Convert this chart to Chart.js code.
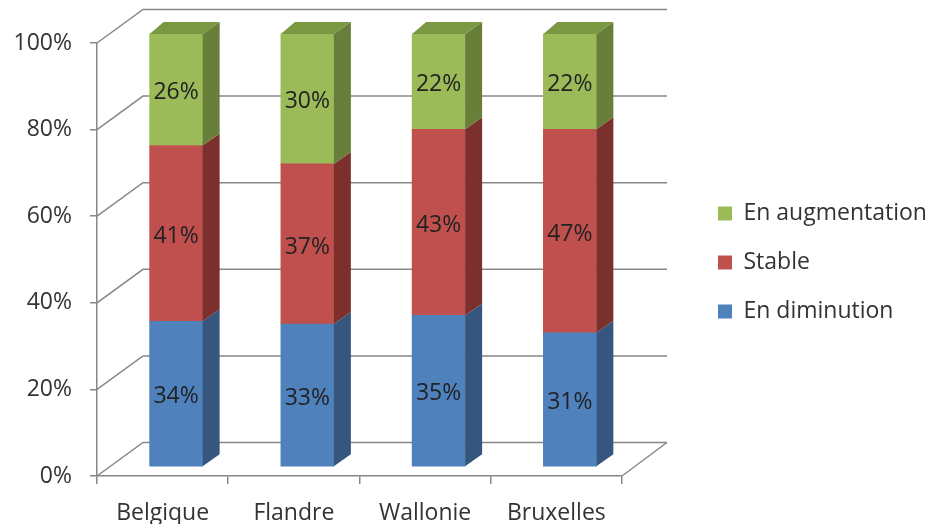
<!DOCTYPE html>
<html><head><meta charset="utf-8">
<script src="https://cdn.jsdelivr.net/npm/chart.js@4/dist/chart.umd.min.js"></script>
<style>html,body{margin:0;padding:0;background:#fff}#wrap{width:927px;height:524px}</style>
</head><body><div id="wrap"><canvas id="c" width="927" height="524"></canvas></div>
<script>
// ---- data ----
const categories = ['Belgique', 'Flandre', 'Wallonie', 'Bruxelles'];
const seriesNames = ['En diminution', 'Stable', 'En augmentation'];
const enDiminution = [34, 33, 35, 31];
const stable = [41, 37, 43, 47];
const enAugmentation = [26, 30, 22, 22];
const yTickLabels = ['0%', '20%', '40%', '60%', '80%', '100%'];

// ---- style ----
const FONT = {family: 'Open Sans', size: 23};
const TEXT = '#333333';
const GRID = '#878787';
const frontColors = ['#4F81BD', '#C0504D', '#9BBB59'];
const sideColors = ['#34567F', '#7C302E', '#677F39'];
const topColor = '#7A9742';
const BAR_DX = 13.5, BAR_DY = -9;
const WALL_DX = 46, WALL_DY = -33.5;
const SIDE_DXL = 14, SIDE_DXR = 17, SIDE_DY = 12;
const LEGEND_GAP = 70;

const raw = [enDiminution, stable, enAugmentation];
const totals = categories.map((_, i) => raw.reduce((s, a) => s + a[i], 0));
const share = raw.map(a => a.map((v, i) => v / totals[i] * 100));

const threeD = {
  id: 'threeD',
  beforeDraw(chart) {
    const lg = chart.legend;
    if (lg) {
      lg.left = chart.chartArea.right + LEGEND_GAP;
      lg.right = chart.width;
      lg.width = lg.right - lg.left;
      lg.maxWidth = lg.width;
      lg.top = chart.chartArea.top;
      lg.bottom = chart.chartArea.bottom + 6;
      lg.height = lg.bottom - lg.top;
    }
  },
  beforeDatasetsDraw(chart) {
    const ctx = chart.ctx, ys = chart.scales.y, ca = chart.chartArea;
    ctx.save();
    ctx.strokeStyle = GRID; ctx.lineWidth = 1.5;
    ys.ticks.forEach(t => {
      const y = ys.getPixelForValue(t.value);
      ctx.beginPath();
      ctx.moveTo(ca.left, y);
      ctx.lineTo(ca.left + WALL_DX, y + WALL_DY);
      ctx.lineTo(ca.right + WALL_DX - 1, y + WALL_DY);
      ctx.stroke();
    });
    ctx.beginPath();
    ctx.moveTo(ca.right, ca.bottom);
    ctx.lineTo(ca.right + WALL_DX - 1, ca.bottom + WALL_DY);
    ctx.stroke();
    ctx.restore();
    ctx.save();
    ctx.translate(BAR_DX, BAR_DY);
  },
  afterDatasetsDraw(chart) {
    const ctx = chart.ctx;
    const n = chart.data.datasets.length;
    chart.data.datasets.forEach((ds, k) => {
      const meta = chart.getDatasetMeta(k);
      meta.data.forEach(el => {
        const p = el.getProps(['x', 'y', 'base', 'width'], true);
        const l = p.x - p.width / 2, r = p.x + p.width / 2;
        const top = Math.min(p.y, p.base), bot = Math.max(p.y, p.base);
        ctx.fillStyle = sideColors[k];
        ctx.beginPath();
        ctx.moveTo(r, bot); ctx.lineTo(r + SIDE_DXR, bot - SIDE_DY);
        ctx.lineTo(r + SIDE_DXR, top - SIDE_DY); ctx.lineTo(r, top);
        ctx.closePath(); ctx.fill();
        if (k === n - 1) {
          ctx.fillStyle = topColor;
          ctx.beginPath();
          ctx.moveTo(l, top); ctx.lineTo(l + SIDE_DXL, top - SIDE_DY);
          ctx.lineTo(r + SIDE_DXR, top - SIDE_DY); ctx.lineTo(r, top);
          ctx.closePath(); ctx.fill();
        }
      });
    });
    ctx.fillStyle = '#222';
    ctx.font = `${FONT.size}px "${FONT.family}"`;
    ctx.textAlign = 'center'; ctx.textBaseline = 'middle';
    chart.data.datasets.forEach((ds, k) => {
      const meta = chart.getDatasetMeta(k);
      meta.data.forEach((el, i) => {
        const p = el.getProps(['x', 'y', 'base'], true);
        ctx.fillText(raw[k][i] + '%', p.x, (p.y + p.base) / 2 + 3);
      });
    });
    ctx.restore();
  }
};

new Chart(document.getElementById('c'), {
  type: 'bar',
  data: {
    labels: categories,
    datasets: seriesNames.map((name, k) => ({
      label: name, data: share[k], backgroundColor: frontColors[k],
      borderWidth: 0, barThickness: 53, clip: false, yAxisID: 'y'
    }))
  },
  options: {
    responsive: false, animation: false, devicePixelRatio: 1,
    layout: {padding: {top: 43, left: 0, right: 97.7, bottom: 0}},
    plugins: {
      legend: {position: 'right', reverse: true,
        labels: {boxWidth: 14, boxHeight: 14, padding: 26, font: FONT, color: TEXT}},
      tooltip: {enabled: false}
    },
    scales: {
      x: {stacked: true,
        grid: {display: true, drawOnChartArea: false, offset: true, tickLength: 8, color: GRID, lineWidth: 1.5},
        border: {display: true, color: GRID, width: 1.5},
        ticks: {font: FONT, color: TEXT, padding: 16},
        afterFit: s => { s.height = 48; }},
      y: {stacked: true, min: 0, max: 100,
        grid: {display: true, drawOnChartArea: false, tickLength: 7, color: GRID, lineWidth: 1.5},
        border: {display: true, color: GRID, width: 1.5},
        ticks: {stepSize: 20, font: FONT, color: TEXT, padding: 18, callback: (v, i) => yTickLabels[i]},
        afterFit: s => { s.width = 97; }}
    }
  },
  plugins: [threeD]
});
</script></body></html>
